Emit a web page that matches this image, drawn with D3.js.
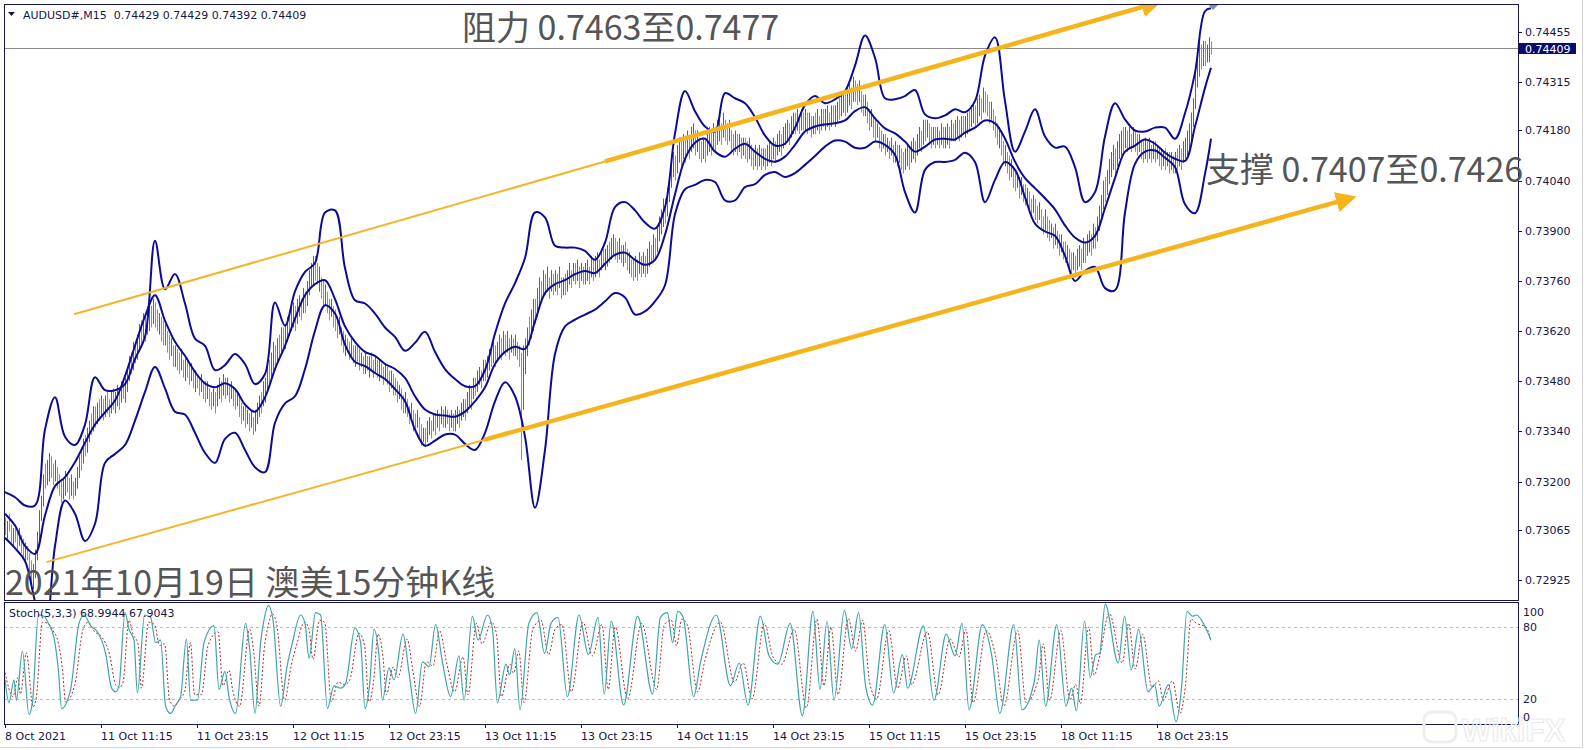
<!DOCTYPE html>
<html>
<head>
<meta charset="utf-8">
<script src="https://cdn.jsdelivr.net/npm/d3@7"></script>
<style>
    body { margin: 0; background: #fff; }
    svg { display: block; }
</style>
</head>
<body>
<div id="chart-area"></div>
<script>
// ---- data (prices in pips, e.g. 7317.0 = 0.73170; bar index = 15-minute bar from 8 Oct) ----
const priceTicks = [0.74455, 0.74315, 0.74180, 0.74040, 0.73900, 0.73760, 0.73620, 0.73480, 0.73340, 0.73200, 0.73065, 0.72925];
const lastPrice = 0.74409;
const timeTickBars = [0, 48, 96, 144, 192, 240, 288, 336, 384, 432, 480, 528, 576];
const timeLabels = ['8 Oct 2021', '11 Oct 11:15', '11 Oct 23:15', '12 Oct 11:15', '12 Oct 23:15', '13 Oct 11:15',
    '13 Oct 23:15', '14 Oct 11:15', '14 Oct 23:15', '15 Oct 11:15', '15 Oct 23:15', '18 Oct 11:15', '18 Oct 23:15'];
const stochLevels = [100, 80, 20, 0];

// bollinger bands read every 5 bars (last point = bar 603)
const bandBars = d3.range(0, 601, 5).concat([603]);
const upperBand = [
    7317.0, 7315.6, 7313.3, 7313.3, 7334.5, 7343.5, 7332.5, 7330.2, 7335.9, 7349.1,
    7345.5, 7345.5, 7347.2, 7354.2, 7360.4, 7387.2, 7373.7, 7377.9, 7369.7, 7359.9,
    7357.9, 7351.1, 7352.5, 7355.6, 7352.8, 7347.2, 7350.0, 7370.0, 7363.5, 7373.1,
    7378.5, 7381.0, 7395.1, 7395.7, 7379.6, 7370.6, 7369.7, 7366.9, 7363.0, 7360.4,
    7356.5, 7358.7, 7361.8, 7356.2, 7351.4, 7348.6, 7346.6, 7346.6, 7351.1, 7361.3,
    7369.7, 7375.4, 7382.4, 7395.1, 7393.7, 7385.8, 7385.3, 7385.3, 7384.4, 7381.9,
    7386.7, 7396.6, 7398.0, 7395.7, 7392.3, 7390.6, 7396.6, 7417.2, 7429.0, 7423.4,
    7419.1, 7417.7, 7428.4, 7427.0, 7425.6, 7421.7, 7416.6, 7413.8, 7414.3, 7418.8,
    7425.1, 7427.6, 7425.6, 7426.7, 7429.0, 7436.1, 7444.5, 7438.3, 7427.0, 7426.7,
    7427.6, 7429.3, 7422.5, 7421.4, 7422.2, 7423.9, 7423.1, 7426.2, 7438.9, 7444.0,
    7426.2, 7412.1, 7417.7, 7423.9, 7416.3, 7413.2, 7413.5, 7407.8, 7398.0, 7400.8,
    7416.3, 7425.6, 7421.1, 7418.0, 7417.7, 7418.8, 7418.8, 7415.7, 7422.8, 7434.1,
    7451.3, 7452.1
];
const middleBand = [
    7311.0, 7307.7, 7302.0, 7299.8, 7310.5, 7318.7, 7321.2, 7325.4, 7330.8, 7335.9,
    7339.3, 7342.6, 7349.4, 7357.9, 7366.1, 7372.0, 7364.9, 7359.0, 7355.1, 7350.6,
    7347.4, 7346.3, 7347.4, 7345.8, 7341.5, 7339.5, 7343.5, 7351.4, 7357.9, 7365.5,
    7372.0, 7375.1, 7376.2, 7370.9, 7363.3, 7359.0, 7356.2, 7355.1, 7352.8, 7351.4,
    7348.9, 7343.8, 7340.1, 7338.7, 7338.4, 7338.1, 7339.5, 7342.4, 7346.3, 7352.8,
    7356.2, 7357.6, 7357.0, 7364.7, 7372.6, 7375.1, 7376.2, 7377.9, 7378.8, 7378.2,
    7380.8, 7383.3, 7383.9, 7381.9, 7380.5, 7381.9, 7388.9, 7400.2, 7410.1, 7414.6,
    7415.7, 7412.1, 7410.7, 7412.9, 7414.3, 7412.1, 7410.1, 7409.3, 7410.7, 7414.0,
    7417.7, 7419.1, 7419.7, 7420.0, 7420.8, 7423.4, 7424.5, 7421.4, 7418.6, 7417.2,
    7414.9, 7412.1, 7413.5, 7415.5, 7415.7, 7415.5, 7417.4, 7418.8, 7420.8, 7420.0,
    7415.7, 7409.3, 7404.7, 7401.9, 7399.1, 7396.0, 7391.5, 7388.1, 7386.7, 7388.6,
    7396.3, 7404.7, 7412.1, 7413.8, 7415.5, 7414.3, 7411.8, 7410.1, 7409.5, 7419.1,
    7429.9, 7435.5
];
const lowerBand = [
    7304.3, 7301.4, 7297.8, 7286.5, 7276.6, 7302.0, 7314.7, 7311.0, 7303.4, 7308.2,
    7325.2, 7327.7, 7330.2, 7337.0, 7345.0, 7352.0, 7346.0, 7339.5, 7338.7, 7333.6,
    7328.0, 7325.2, 7331.9, 7333.6, 7328.8, 7324.0, 7322.6, 7336.4, 7341.8, 7343.8,
    7351.4, 7362.1, 7369.2, 7366.9, 7358.2, 7353.4, 7352.2, 7350.3, 7348.6, 7345.8,
    7342.4, 7334.5, 7330.0, 7331.4, 7333.1, 7333.1, 7330.5, 7328.8, 7333.6, 7342.4,
    7347.7, 7343.8, 7332.5, 7312.7, 7328.8, 7355.6, 7363.3, 7365.2, 7366.6, 7368.0,
    7370.3, 7372.6, 7371.4, 7366.6, 7367.5, 7370.3, 7374.8, 7394.6, 7401.6, 7402.8,
    7404.2, 7403.6, 7398.5, 7398.5, 7402.2, 7403.0, 7405.6, 7406.4, 7405.0, 7406.1,
    7408.4, 7410.9, 7413.5, 7415.2, 7414.9, 7413.2, 7413.2, 7414.9, 7414.0, 7411.2,
    7400.8, 7395.1, 7407.0, 7409.2, 7409.2, 7409.8, 7411.8, 7409.2, 7398.0, 7404.2,
    7409.2, 7407.0, 7399.4, 7392.0, 7389.8, 7388.6, 7383.0, 7376.0, 7378.8, 7379.9,
    7374.0, 7373.4, 7395.1, 7408.7, 7412.1, 7412.4, 7410.4, 7407.8, 7397.4, 7394.9,
    7405.9, 7415.7
];

// one entry per M15 bar: [low, high, up (1 = close above open)]
const priceBars = [
    [7305,7310,0],[7304,7309,1],[7306,7311,0],[7303,7308,0],[7302,7307,1],[7303,7308,0],[7301,7306,0],[7302,7307,1],[7300,7305,0],[7299,7304,0],
    [7297,7303,1],[7298,7302,0],[7295,7300,0],[7292,7298,0],[7290,7297,1],[7293,7301,1],[7298,7306,1],[7303,7312,1],[7309,7316,1],[7313,7322,1],
    [7318,7325,0],[7319,7326,1],[7320,7328,1],[7321,7327,0],[7319,7325,0],[7320,7326,1],[7318,7324,0],[7316,7322,0],[7314,7320,0],[7315,7321,1],
    [7316,7323,1],[7317,7322,0],[7315,7321,0],[7316,7322,1],[7315,7320,0],[7316,7321,1],[7318,7324,1],[7321,7327,1],[7323,7329,0],[7325,7332,1],
    [7327,7333,0],[7328,7335,1],[7331,7337,1],[7333,7339,0],[7334,7341,1],[7335,7341,0],[7336,7342,1],[7337,7343,0],[7338,7344,1],[7337,7343,0],
    [7338,7344,1],[7339,7345,0],[7338,7343,0],[7339,7345,1],[7340,7346,0],[7339,7345,1],[7341,7347,1],[7340,7346,0],[7342,7348,1],[7343,7348,0],
    [7342,7349,1],[7345,7352,1],[7348,7355,1],[7350,7356,0],[7351,7359,1],[7353,7359,0],[7354,7361,1],[7357,7364,1],[7358,7365,0],[7360,7367,1],
    [7359,7366,0],[7361,7368,1],[7362,7370,1],[7363,7369,0],[7364,7371,1],[7363,7370,0],[7362,7368,0],[7361,7367,1],[7359,7366,0],[7358,7365,0],
    [7358,7364,1],[7356,7362,0],[7354,7361,0],[7355,7360,1],[7352,7358,0],[7352,7358,1],[7351,7357,0],[7350,7356,0],[7351,7357,1],[7349,7354,0],
    [7348,7355,1],[7349,7354,0],[7347,7353,0],[7348,7353,1],[7346,7351,0],[7345,7351,1],[7346,7350,0],[7344,7349,0],[7345,7350,1],[7343,7348,0],
    [7342,7348,0],[7343,7348,1],[7341,7346,0],[7340,7345,0],[7341,7346,1],[7339,7345,0],[7341,7347,1],[7343,7349,1],[7342,7348,0],[7344,7350,1],
    [7343,7349,0],[7344,7349,1],[7342,7347,0],[7343,7348,1],[7341,7346,0],[7340,7346,0],[7341,7345,1],[7338,7344,0],[7336,7342,0],[7337,7341,1],
    [7335,7341,0],[7336,7340,1],[7334,7339,0],[7335,7340,1],[7333,7338,0],[7334,7340,1],[7336,7342,1],[7338,7344,1],[7339,7345,0],[7341,7348,1],
    [7342,7349,1],[7345,7352,1],[7347,7354,0],[7349,7356,1],[7351,7359,1],[7352,7358,0],[7353,7360,1],[7355,7361,0],[7356,7363,1],[7357,7363,0],
    [7357,7364,1],[7359,7366,1],[7361,7367,0],[7362,7369,1],[7363,7370,1],[7362,7369,0],[7364,7371,1],[7366,7372,1],[7365,7371,0],[7367,7374,1],
    [7367,7373,0],[7369,7376,1],[7372,7379,1],[7374,7381,1],[7375,7383,1],[7376,7383,0],[7375,7381,0],[7373,7380,1],[7371,7377,0],[7369,7376,0],
    [7369,7375,1],[7367,7373,0],[7365,7371,0],[7366,7371,1],[7363,7369,0],[7362,7368,0],[7360,7366,0],[7361,7366,1],[7358,7363,0],[7356,7362,0],
    [7355,7361,1],[7356,7360,0],[7354,7359,0],[7355,7360,1],[7353,7358,0],[7352,7358,1],[7353,7358,0],[7351,7357,0],[7352,7356,1],[7350,7355,0],
    [7350,7356,1],[7351,7355,0],[7349,7355,1],[7351,7356,0],[7349,7354,0],[7350,7355,1],[7349,7354,0],[7348,7354,1],[7349,7353,0],[7347,7352,0],
    [7348,7353,1],[7347,7352,0],[7345,7351,0],[7346,7351,1],[7344,7350,0],[7344,7349,0],[7342,7348,0],[7343,7347,1],[7340,7346,0],[7339,7344,0],
    [7339,7345,1],[7338,7343,0],[7336,7341,0],[7337,7342,1],[7334,7340,0],[7334,7339,0],[7335,7340,1],[7332,7338,0],[7330,7336,0],[7331,7335,1],
    [7330,7335,0],[7331,7337,1],[7333,7338,1],[7332,7337,0],[7334,7339,1],[7333,7339,0],[7335,7340,1],[7334,7339,0],[7336,7341,1],[7335,7340,0],
    [7335,7341,1],[7336,7340,0],[7334,7339,0],[7335,7340,1],[7334,7339,0],[7334,7340,1],[7336,7341,1],[7335,7340,0],[7337,7342,1],[7338,7343,1],
    [7337,7343,0],[7339,7345,1],[7341,7347,1],[7340,7346,0],[7343,7349,1],[7344,7349,0],[7345,7351,1],[7347,7352,1],[7346,7351,0],[7348,7354,1],
    [7348,7354,0],[7349,7355,1],[7351,7357,1],[7352,7357,0],[7353,7359,1],[7352,7358,0],[7354,7359,1],[7355,7361,1],[7354,7360,0],[7356,7362,1],
    [7355,7361,0],[7356,7362,1],[7354,7360,0],[7356,7361,1],[7355,7360,0],[7355,7361,1],[7354,7359,0],[7352,7358,0],[7326,7356,0],[7340,7358,1],
    [7350,7360,1],[7355,7363,1],[7358,7366,0],[7360,7368,1],[7362,7371,1],[7364,7371,0],[7366,7374,1],[7369,7377,1],[7370,7376,0],[7372,7379,1],
    [7372,7378,0],[7373,7380,1],[7371,7377,0],[7373,7379,1],[7372,7378,0],[7373,7379,1],[7372,7378,0],[7374,7380,1],[7371,7377,0],[7372,7377,1],
    [7372,7378,0],[7373,7379,1],[7375,7381,1],[7374,7379,0],[7376,7381,1],[7375,7381,0],[7376,7382,1],[7374,7380,0],[7376,7381,1],[7375,7380,0],
    [7375,7381,1],[7376,7382,1],[7375,7380,0],[7377,7383,1],[7376,7382,0],[7377,7383,1],[7378,7384,1],[7377,7382,0],[7379,7385,1],[7380,7385,0],
    [7379,7385,1],[7380,7386,1],[7381,7387,0],[7382,7388,1],[7383,7389,1],[7382,7388,0],[7381,7387,0],[7382,7388,1],[7381,7386,0],[7380,7386,1],
    [7381,7387,0],[7379,7385,0],[7378,7384,1],[7377,7382,0],[7376,7382,0],[7377,7383,1],[7376,7382,0],[7378,7384,1],[7377,7383,0],[7378,7384,1],
    [7377,7383,0],[7378,7385,1],[7380,7387,1],[7381,7386,0],[7382,7389,1],[7382,7388,0],[7384,7391,1],[7387,7394,1],[7389,7396,1],[7391,7399,1],
    [7392,7399,0],[7394,7402,1],[7398,7406,1],[7402,7410,1],[7405,7412,1],[7404,7411,0],[7406,7414,1],[7409,7416,1],[7408,7415,0],[7410,7417,1],
    [7409,7416,0],[7411,7418,1],[7410,7416,0],[7412,7419,1],[7413,7420,1],[7411,7418,0],[7412,7418,1],[7410,7416,0],[7409,7415,0],[7410,7416,1],
    [7409,7416,0],[7411,7417,1],[7412,7419,1],[7411,7418,0],[7413,7420,1],[7412,7419,0],[7414,7421,1],[7415,7422,1],[7414,7420,0],[7416,7423,1],
    [7415,7421,0],[7414,7420,0],[7415,7421,1],[7412,7418,0],[7411,7417,0],[7412,7418,1],[7411,7417,0],[7412,7417,1],[7410,7416,0],[7411,7416,1],
    [7410,7416,0],[7409,7415,0],[7410,7416,1],[7408,7414,0],[7407,7413,0],[7408,7414,1],[7407,7413,0],[7408,7414,1],[7407,7413,0],[7408,7413,1],
    [7407,7413,0],[7408,7414,1],[7409,7415,1],[7408,7414,0],[7410,7416,1],[7409,7415,0],[7411,7417,1],[7412,7418,1],[7411,7417,0],[7413,7419,1],
    [7414,7420,1],[7415,7421,1],[7414,7420,0],[7416,7422,1],[7417,7423,1],[7417,7423,0],[7418,7424,1],[7417,7422,0],[7418,7424,1],[7418,7423,0],
    [7418,7424,1],[7417,7423,0],[7418,7423,1],[7416,7422,0],[7417,7422,1],[7417,7423,0],[7418,7424,1],[7417,7422,0],[7418,7424,1],[7419,7424,0],
    [7418,7424,1],[7419,7425,1],[7418,7423,0],[7419,7425,1],[7420,7425,0],[7419,7425,1],[7420,7426,1],[7421,7427,0],[7422,7428,1],[7423,7429,1],
    [7422,7428,0],[7423,7430,1],[7425,7431,1],[7424,7430,0],[7426,7433,1],[7426,7432,0],[7425,7431,0],[7426,7432,1],[7423,7429,0],[7422,7428,0],
    [7422,7428,1],[7420,7426,0],[7418,7424,0],[7419,7424,1],[7416,7422,0],[7415,7421,0],[7416,7420,1],[7413,7419,0],[7412,7418,0],[7413,7417,1],
    [7411,7417,0],[7412,7416,1],[7410,7415,0],[7411,7416,1],[7409,7414,0],[7409,7415,1],[7408,7414,0],[7409,7414,1],[7407,7413,0],[7406,7412,0],
    [7407,7413,1],[7408,7414,1],[7407,7413,0],[7409,7415,1],[7410,7416,1],[7409,7415,0],[7411,7417,1],[7413,7419,1],[7412,7418,0],[7414,7421,1],
    [7415,7421,0],[7416,7421,1],[7414,7420,0],[7413,7419,0],[7414,7419,1],[7413,7419,0],[7414,7419,1],[7413,7418,0],[7414,7420,1],[7413,7419,0],
    [7413,7419,1],[7414,7420,1],[7413,7419,0],[7415,7421,1],[7415,7420,0],[7415,7421,1],[7416,7422,1],[7415,7421,0],[7416,7422,1],[7417,7422,0],
    [7416,7422,1],[7417,7423,1],[7418,7424,0],[7419,7425,1],[7420,7426,1],[7419,7425,0],[7420,7427,1],[7422,7428,1],[7421,7427,0],[7423,7430,1],
    [7423,7429,0],[7422,7428,0],[7420,7426,0],[7421,7426,1],[7418,7424,0],[7416,7422,0],[7414,7420,0],[7413,7419,1],[7411,7417,0],[7409,7415,0],
    [7408,7414,1],[7406,7412,0],[7404,7411,0],[7405,7410,1],[7402,7408,0],[7401,7407,0],[7402,7406,1],[7399,7405,0],[7400,7405,1],[7398,7403,0],
    [7397,7403,0],[7398,7402,1],[7395,7401,0],[7394,7399,0],[7395,7400,1],[7393,7399,0],[7392,7397,0],[7393,7398,1],[7390,7396,0],[7389,7394,0],
    [7390,7396,1],[7388,7394,0],[7387,7393,0],[7388,7392,1],[7385,7391,0],[7386,7392,1],[7385,7390,0],[7383,7389,0],[7384,7389,1],[7382,7387,0],
    [7381,7387,0],[7382,7386,1],[7379,7385,0],[7378,7384,0],[7379,7384,1],[7377,7383,0],[7379,7385,1],[7380,7386,1],[7379,7385,0],[7381,7388,1],
    [7381,7387,0],[7383,7389,1],[7384,7390,1],[7383,7389,0],[7385,7392,1],[7385,7391,0],[7387,7394,1],[7390,7397,1],[7393,7400,1],[7396,7404,1],
    [7398,7405,0],[7400,7407,1],[7403,7410,1],[7405,7412,1],[7407,7414,1],[7406,7413,0],[7408,7415,1],[7410,7417,1],[7411,7418,1],[7412,7419,0],
    [7413,7419,1],[7412,7418,0],[7413,7419,1],[7412,7417,0],[7413,7419,1],[7412,7418,0],[7411,7417,0],[7412,7417,1],[7410,7415,0],[7409,7415,0],
    [7410,7416,1],[7409,7415,0],[7410,7416,1],[7409,7414,0],[7410,7415,1],[7409,7415,0],[7410,7414,1],[7408,7413,0],[7407,7413,0],[7408,7412,1],
    [7407,7413,0],[7408,7412,1],[7406,7412,0],[7407,7412,1],[7406,7411,0],[7406,7412,1],[7407,7413,0],[7408,7414,1],[7407,7413,0],[7409,7415,1],
    [7410,7416,1],[7411,7418,1],[7413,7420,1],[7415,7423,1],[7419,7427,1],[7424,7436,1],[7430,7440,1],[7433,7443,1],[7435,7442,0],[7436,7443,1],
    [7436,7443,0],[7437,7442,1],[7437,7444,1],[7439.2,7442.9,0]
];

// Stoch(5,3,3) turning points [bar, value]
const stochMain = [
    [0,36],[2,17],[4.5,36],[5.7,19],[8.7,60],[12,7],[13.7,17],[16.7,90],[19.5,89],[22,82],[24.5,71],[26.7,44],[28.3,12],[32.8,28],
    [37,83],[39.5,90],[42.8,81],[46.2,76],[50.3,58],[53.3,29],[55.3,26],[57,31],[60,92],[62,78],[64.5,69],[66.2,25],[69.8,90],
    [72.8,88],[75.3,67],[77.8,69],[80.3,14],[82.8,8],[85.3,15],[87.8,22],[90.7,70],[92.8,19],[96.2,19],[99.5,67],[104.5,81],
    [107,28],[110,43],[112,22],[115.3,8],[120.3,83],[122.3,62],[125,8],[127.8,67],[129.5,86],[131.7,98],[134,86],[137.8,14],
    [141,47],[143.7,67],[147.8,90],[150,83],[152,54],[155.3,92],[157.8,90],[161.2,12],[164.5,31],[167.8,29],[170.3,33],[175,79],
    [177.8,67],[180,12],[182.3,32],[184.5,78],[187,56],[188.7,19],[192,46],[194.5,36],[199,74],[202,42],[205.3,8],[208.7,51],
    [212,47],[215.3,82],[218.7,51],[222.8,22],[227,56],[229.5,19],[233.7,89],[236.5,69],[241.2,90],[243.7,79],[246.2,17],
    [250.5,49],[252.3,40],[254.9,62],[257.5,11],[261.9,83],[266,92],[269.8,58],[273,83],[276.5,88],[281.2,22],[287,90],
    [291.7,57],[296.5,88],[299.6,24],[303.1,85],[309.3,15],[316.3,89],[323.8,24],[327.7,88],[331.2,92],[333.8,67],[336.4,93],
    [339.1,88],[344.3,22],[347.8,51],[355.7,90],[362.7,31],[367.1,50],[371.5,15],[377.7,89],[382,56],[386.4,49],[392.6,83],
    [398.7,6],[404,93],[407.5,28],[411,85],[414.5,19],[419.7,94],[423.3,62],[426.8,92],[430.3,31],[433.8,15],[439.9,82],
    [444.3,25],[448.7,57],[451.3,29],[459.2,81],[464.5,19],[470.6,74],[475,56],[478.5,83],[482,11],[488.7,82],[493.4,56],
    [497.4,8],[504.4,82],[508.5,11],[514.7,35],[517.1,69],[520.3,14],[525.9,82],[530.5,14],[533.3,29],[535.7,10],[539.8,85],
    [542.6,38],[545.4,57],[547.3,58],[550.1,99],[556.6,50],[559.8,89],[563.1,44],[566.8,78],[571.5,26],[574.8,32],[577.1,14],
    [581.7,32],[585.5,1],[588.2,28],[591,93],[593.8,89],[595.7,90],[598.5,85],[603,68.9944]
];
const stochSignal = [
    [0,42],[4,22],[6.5,38],[7.7,24],[10.7,58.5],[14,13.5],[15.7,22],[18.7,84],[21.5,83],[24,77],[26.5,68],[28.7,45],[30.3,17.5],
    [34.8,31],[39,78],[41.5,84],[44.8,76],[48.2,72],[52.3,57],[55.3,32],[57.3,29.5],[59,34],[62,85.7],[64,74],[66.5,66],
    [68.2,29],[71.8,84],[74.8,82],[77.3,64.5],[79.8,66],[82.3,19],[84.8,14],[87.3,20],[89.8,26],[92.7,67],[94.8,23.6],
    [98.2,23.6],[101.5,64.5],[106.5,76],[109,31],[112,44],[114,26],[117.3,14],[122.3,78],[124.3,60],[127,14],[129.8,64.5],
    [131.5,80.6],[133.7,91],[136,80.6],[139.8,19],[143,47],[145.7,64.5],[149.8,84],[152,78],[154,53],[157.3,85.7],[159.8,84],
    [163.2,17.7],[166.5,34],[169.8,32],[172.3,35.5],[177,74.7],[179.8,64.5],[182,17.7],[184.3,34.7],[186.5,74],[189,55],
    [190.7,23.6],[194,46.6],[196.5,38],[201,70],[204,43],[207.3,14],[210.7,51],[214,47.5],[217.3,77],[220.7,51],[224.8,26],
    [229,55],[231.5,23.6],[235.7,83],[238.5,66],[243.2,84],[245.7,74.6],[248.2,22],[252.5,49],[254.3,41.5],[256.9,60],
    [259.5,17],[263.9,78],[268,85.7],[271.8,57],[275,78],[278.5,82],[283.2,26],[289,84],[293.7,56],[298.5,82],[301.6,28],
    [305.1,80],[311.3,20],[318.3,83],[325.8,28],[329.7,82],[333.2,85.7],[335.8,64.5],[338.4,86.5],[341.1,82],[346.3,26],
    [349.8,51],[357.7,84],[364.7,34],[369.1,50],[373.5,20],[379.7,83],[384,55],[388.4,49],[394.6,78],[400.7,12.6],[406,86.5],
    [409.5,31],[413,80],[416.5,23.6],[421.7,87],[425.3,60],[428.8,85.7],[432.3,34],[435.8,20],[441.9,77],[446.3,29],[450.7,56],
    [453.3,32],[461.2,76],[466.5,23.6],[472.6,70],[477,55],[480.5,78],[484,17],[490.7,77],[495.4,55],[499.4,14],[506.4,77],
    [510.5,17],[516.7,37],[519.1,66],[522.3,19],[527.9,77],[532.5,19],[535.3,32],[537.7,16],[541.8,80],[544.6,40],[547.4,56],
    [552.1,91.6],[558.6,50],[561.8,83],[565.1,45],[568.8,74],[573.5,29.6],[576.8,35],[579.1,19],[583.7,35],[587.5,8],
    [590.2,31],[593,86.5],[595.8,83],[600.5,80],[603,67.9043]
];

// hand-drawn channel lines [bar, price]
const resistLine = [[34.5, 0.73667], [575.5, 0.74536]];
const resistArrow = [[300, 0.74094], [575.5, 0.74536]];
const supportLine = [[20.7, 0.72975], [672.8, 0.73991]];
const supportArrow = [[239.5, 0.73316], [672.8, 0.73991]];

// ---- layout ----
const width = 1584, height = 750;
const main = {left: 4, right: 1518, top: 4, bottom: 600};
const sub = {top: 602, bottom: 724};
const navy = '#16164a';

const svg = d3.select('#chart-area')
    .append('svg')
    .attr('width', width)
    .attr('height', height)
    .style('font-family', '"DejaVu Sans", Verdana, sans-serif');

svg.append('rect').attr('width', width).attr('height', height).attr('fill', '#fff');

const xScale = d3.scaleLinear().domain([0, 756]).range([5, 1517]);
const yScale = d3.scaleLinear().domain([0.72925, 0.74455]).range([580, 32]);
const sScale = d3.scaleLinear().domain([0, 100]).range([723, 603]);
const pipY = v => yScale(v / 10000);

const defs = svg.append('defs');
defs.append('clipPath').attr('id', 'clip-main')
    .append('rect')
    .attr('x', main.left + 1).attr('y', main.top + 1)
    .attr('width', main.right - main.left - 1).attr('height', main.bottom - main.top - 1);
defs.append('clipPath').attr('id', 'clip-sub')
    .append('rect')
    .attr('x', main.left + 1).attr('y', sub.top + 1)
    .attr('width', main.right - main.left - 1).attr('height', sub.bottom - sub.top - 1);
defs.append('marker')
    .attr('id', 'arrow')
    .attr('viewBox', '0 0 10 10')
    .attr('refX', 7).attr('refY', 5)
    .attr('markerWidth', 4.6).attr('markerHeight', 4.6)
    .attr('orient', 'auto')
    .append('path')
    .attr('d', 'M0,0 L10,5 L0,10 z')
    .attr('fill', '#f6b41c');

// outer frame (right / bottom edges of the screenshot)
svg.append('path')
    .attr('d', 'M1582.5,0 V747.5 H0')
    .attr('fill', 'none').attr('stroke', '#d6d6d6');

// ---- main price panel ----
const g = svg.append('g').attr('clip-path', 'url(#clip-main)');

g.append('line')
    .attr('x1', main.left).attr('x2', main.right)
    .attr('y1', Math.round(yScale(lastPrice)) + 0.5).attr('y2', Math.round(yScale(lastPrice)) + 0.5)
    .attr('stroke', '#8c8c8c');

g.append('g')
    .selectAll('line')
    .data(priceBars)
    .join('line')
    .attr('x1', (d, i) => Math.round(xScale(i)) + 0.5)
    .attr('x2', (d, i) => Math.round(xScale(i)) + 0.5)
    .attr('y1', d => pipY(d[1]))
    .attr('y2', d => pipY(d[0]))
    .attr('stroke', d => d[2] ? '#c23a34' : '#3fc63f')
    .attr('stroke-width', 1);

const bandLine = d3.line()
    .x((d, i) => xScale(bandBars[i]))
    .y(d => pipY(d))
    .curve(d3.curveCatmullRom.alpha(0.5));

[upperBand, middleBand, lowerBand].forEach(band => {
    g.append('path')
        .attr('d', bandLine(band))
        .attr('fill', 'none')
        .attr('stroke', '#0b0b98')
        .attr('stroke-width', 2)
        .attr('stroke-linejoin', 'round');
});

// small grey marker where the upper band leaves the panel
g.append('path')
    .attr('d', 'M1208,4 L1219,4 L1213,10 z')
    .attr('fill', '#7f8ea6');

const trend = d3.line().x(d => xScale(d[0])).y(d => yScale(d[1]));
g.append('path').attr('d', trend(resistLine)).attr('stroke', '#f4b526').attr('stroke-width', 2).attr('fill', 'none');
g.append('path').attr('d', trend(supportLine)).attr('stroke', '#f4b526').attr('stroke-width', 2).attr('fill', 'none');
g.append('path').attr('d', trend(resistArrow)).attr('stroke', '#f6b41c').attr('stroke-width', 4.5)
    .attr('fill', 'none').attr('marker-end', 'url(#arrow)');
g.append('path').attr('d', trend(supportArrow)).attr('stroke', '#f6b41c').attr('stroke-width', 4.5)
    .attr('fill', 'none').attr('marker-end', 'url(#arrow)');

// header
svg.append('path').attr('d', 'M8,12 L15,12 L11.5,16 z').attr('fill', navy);
svg.append('text')
    .attr('x', 23).attr('y', 19)
    .attr('font-size', '11px').attr('fill', navy)
    .attr('xml:space', 'preserve')
    .text('AUDUSD#,M15  0.74429 0.74429 0.74392 0.74409');

// ---- stochastic panel ----
const s = svg.append('g').attr('clip-path', 'url(#clip-sub)');

s.selectAll('line.level')
    .data([80, 20])
    .join('line')
    .attr('class', 'level')
    .attr('x1', main.left).attr('x2', main.right)
    .attr('y1', d => Math.round(sScale(d)) + 0.5).attr('y2', d => Math.round(sScale(d)) + 0.5)
    .attr('stroke', '#bdbdbd').attr('stroke-dasharray', '3,3');

const stochLine = d3.line()
    .x(d => xScale(d[0]))
    .y(d => sScale(d[1]))
    .curve(d3.curveMonotoneX);
s.append('path').attr('d', stochLine(stochSignal))
    .attr('fill', 'none').attr('stroke', '#b42828').attr('stroke-width', 1).attr('stroke-dasharray', '2,2');
s.append('path').attr('d', stochLine(stochMain))
    .attr('fill', 'none').attr('stroke', '#3fa5a8').attr('stroke-width', 1.2);

svg.append('text')
    .attr('x', 9).attr('y', 617)
    .attr('font-size', '11px').attr('fill', navy)
    .text('Stoch(5,3,3) 68.9944 67.9043');

// ---- frames ----
svg.append('rect')
    .attr('x', main.left + 0.5).attr('y', main.top + 0.5)
    .attr('width', main.right - main.left).attr('height', main.bottom - main.top)
    .attr('fill', 'none').attr('stroke', navy);
svg.append('rect')
    .attr('x', main.left + 0.5).attr('y', sub.top + 0.5)
    .attr('width', main.right - main.left).attr('height', sub.bottom - sub.top)
    .attr('fill', 'none').attr('stroke', navy);

// faint watermark (under the axis labels)
svg.append('rect')
    .attr('x', 1424).attr('y', 712).attr('width', 32).attr('height', 30).attr('rx', 8)
    .attr('fill', 'none').attr('stroke', '#efefef').attr('stroke-width', 3);
svg.append('text')
    .attr('x', 1462).attr('y', 741)
    .attr('font-family', '"Liberation Sans", Arial, sans-serif')
    .attr('font-size', '31px').attr('font-weight', 'bold')
    .attr('fill', 'none').attr('stroke', '#ebebeb').attr('stroke-width', 1.2)
    .text('WikiFX');

// ---- price axis (right) ----
const priceAxis = svg.append('g');
priceAxis.selectAll('line')
    .data(priceTicks)
    .join('line')
    .attr('x1', main.right).attr('x2', main.right + 4)
    .attr('y1', d => Math.round(yScale(d)) + 0.5).attr('y2', d => Math.round(yScale(d)) + 0.5)
    .attr('stroke', navy);
priceAxis.selectAll('text')
    .data(priceTicks)
    .join('text')
    .attr('x', main.right + 7)
    .attr('y', d => yScale(d) + 4)
    .attr('font-size', '11px').attr('fill', navy)
    .text(d => d.toFixed(5));

const lastY = yScale(lastPrice);
svg.append('rect')
    .attr('x', main.right + 1).attr('y', Math.round(lastY) - 5)
    .attr('width', 57).attr('height', 11)
    .attr('fill', '#0c0c6e');
svg.append('text')
    .attr('x', main.right + 7).attr('y', lastY + 4.5)
    .attr('font-size', '11px').attr('fill', '#fff')
    .text(lastPrice.toFixed(5));

// stochastic scale
svg.selectAll('text.slevel')
    .data(stochLevels)
    .join('text')
    .attr('class', 'slevel')
    .attr('x', main.right + 5)
    .attr('y', d => Math.min(Math.max(sScale(d), sub.top + 10), sub.bottom - 7) + 4)
    .attr('font-size', '11px').attr('fill', navy)
    .text(d => d);

// ---- time axis ----
const timeAxis = svg.append('g');
timeAxis.selectAll('line')
    .data(timeTickBars)
    .join('line')
    .attr('x1', d => Math.round(xScale(d)) + 0.5).attr('x2', d => Math.round(xScale(d)) + 0.5)
    .attr('y1', sub.bottom).attr('y2', sub.bottom + 4)
    .attr('stroke', navy);
timeAxis.selectAll('text')
    .data(timeTickBars)
    .join('text')
    .attr('x', d => xScale(d))
    .attr('y', 740)
    .attr('font-size', '11px').attr('fill', navy)
    .text((d, i) => timeLabels[i]);

// ---- annotations ----
const noteFont = '"Noto Sans CJK SC", "Noto Sans", sans-serif';
[
    {text: '阻力 0.7463至0.7477', x: 462, y: 39.5},
    {text: '支撑 0.7407至0.7426', x: 1206, y: 182},
    {text: '2021年10月19日 澳美15分钟K线', x: 5, y: 595}
].forEach(n => {
    svg.append('text')
        .attr('x', n.x).attr('y', n.y)
        .attr('font-family', noteFont)
        .attr('font-size', '34px')
        .attr('fill', '#555')
        .text(n.text);
});
</script>
</body>
</html>
